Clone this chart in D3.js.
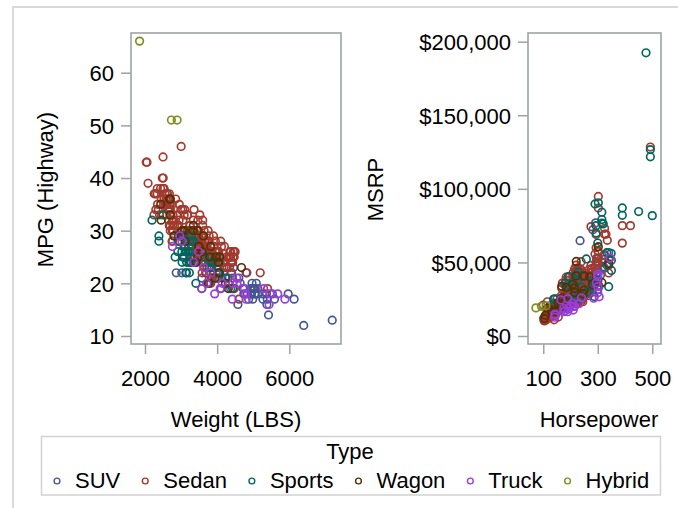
<!DOCTYPE html>
<html><head><meta charset="utf-8">
<script src="https://cdn.jsdelivr.net/npm/d3@7"></script>
<style>
html,body{margin:0;padding:0;background:#fff;overflow:hidden}
svg{display:block;font-family:"Liberation Sans",Arial,sans-serif}
</style></head><body><svg id="c" width="678" height="508"></svg>
<script>
// ---- data: each row = [Weight (LBS), MPG Highway, Horsepower, MSRP] ----
const types = ["SUV", "Sedan", "Sports", "Wagon", "Truck", "Hybrid"];
const typeColors = ["#445694", "#A23A2E", "#01665E", "#543005", "#9D3CDB", "#7F8E1F"];

const suvRows = [
[4451,23,265,36945],[4023,23,225,37000],[4824,22,325,52195],[4600,21,275,37895],[4024,26,185,26545],
[5367,18,295,52795],[4302,21,320,46995],[4947,18,295,42735],[5050,18,295,41465],[4425,21,275,30295],
[2866,22,165,20255],[4987,17,230,32235],[7190,13,310,41475],[5000,19,232,34560],[4463,19,210,29670],
[3346,25,201,22515],[4945,19,275,31890],[5042,18,285,35725],[6133,17,325,46265],[3258,26,160,19860],
[3468,25,160,18690],[4387,22,240,27560],[6400,12,316,49995],[3549,26,173,21589],[4967,20,275,31849],
[3836,21,193,20449],[3790,20,195,27905],[3826,24,210,20130],[3575,19,190,25520],[4112,19,192,19635],
[5379,16,282,72250],[4576,16,217,39250],[3577,21,174,25995],[4740,18,235,45700],[5590,17,235,64800],
[4065,24,230,39195],[5969,18,300,52775],[4834,18,302,42915],[3091,25,130,21087],[5423,14,292,76870],
[4874,17,288,46470],[4374,19,210,29995],[4134,21,215,30492],[4718,19,215,33112],[3240,26,160,18892],
[5013,19,305,33840],[3760,20,180,20939],[3871,21,240,27339],[3779,26,185,21595],[4950,18,340,56665],
[3381,28,143,20585],[3682,22,185,23699],[3020,22,130,17163],[5390,17,325,54765],[5270,17,240,35695],
[4035,21,245,27710],[3935,24,230,27930],[3119,27,161,20290],[5086,20,220,35515],[4638,20,268,41250],
[3150,22,150,19000],[5120,18,240,33500],[5260,18,300,45000],[5530,18,285,39000],[4920,19,240,30500],
[5040,19,275,33000],[5130,19,290,35500],[4250,21,250,33000],[4180,22,230,29500],[3980,21,210,28500]
];
const sedanRows = [
[2778,31,200,23820],[3230,29,200,26990],[3575,28,270,33195],[3880,24,225,43755],[3893,24,225,46100],
[3252,31,170,25940],[3638,30,170,35940],[3462,28,220,31840],[3583,24,220,33430],[3627,25,220,34480],
[3561,27,220,36640],[3880,24,220,39640],[3814,27,220,42490],[4013,24,220,44240],[3836,24,250,42840],
[4024,24,300,49690],[4399,24,330,69190],[3825,20,340,48040],
[3219,29,184,28495],[3197,29,184,30795],[3560,28,184,37995],[3461,27,184,30245],[3285,30,225,35495],
[3285,28,225,36995],[3483,27,225,37245],[3428,28,184,39995],[3616,27,225,44295],[3472,30,225,44995],
[3814,26,325,54995],[4376,26,325,69195],[4464,26,325,73195],
[3353,30,175,22180],[3567,29,205,26470],[3461,29,200,24895],[3536,28,240,28345],[3591,29,205,32245],
[3778,29,205,35545],[3909,27,240,40720],
[3694,26,255,30835],[3984,26,275,45445],[4044,26,300,50595],[3992,26,275,47955],
[2370,34,103,11690],[2348,35,103,12585],[2617,37,140,14610],[2676,37,140,14810],[2617,37,140,16385],
[3465,32,180,21900],[3174,33,145,18995],[3297,30,200,20370],[3340,32,180,21825],[3476,30,200,25000],
[3315,30,200,23495],[3434,30,200,24225],[3606,27,240,27995],[4605,17,190,26395],[3699,26,185,27020],
[3101,29,150,17985],[3105,29,150,22000],[3217,27,220,25955],[3173,30,150,19090],[3448,28,200,30950],
[3479,29,200,24130],[3548,27,232,26860],[3581,28,250,29865],[3650,28,255,33295],[3357,30,150,25215],
[4068,25,215,27490],[4331,25,215,38380],
[2581,36,132,13670],[2626,36,132,15040],[3469,28,200,22035],[3182,28,150,18820],[3175,30,150,20220],
[3862,26,150,21795],[4440,25,215,32660],[3487,27,232,24885],
[2612,35,110,13270],[2606,35,110,13730],[2606,33,130,15460],[2691,33,130,15580],[2750,28,170,19135],
[3306,28,155,20320],[3313,26,201,22735],[4057,25,224,24345],[4057,25,224,27370],[4057,25,239,30315],
[4275,23,193,26930],[4309,20,190,25640],
[2432,38,115,13270],[2500,44,117,14170],[2513,38,115,15850],[2601,37,127,17750],[2782,30,160,19490],
[2994,34,160,19860],[3047,34,160,22260],[3349,30,240,23760],[3294,29,240,26960],[4310,25,240,24950],
[4365,25,240,27450],
[2255,37,103,10539],[2290,37,103,11839],[2339,37,103,11939],[2635,34,138,13839],[2635,34,138,15389],
[2698,34,138,15389],[3217,27,170,19339],[3217,27,170,20339],[3651,26,194,24589],[3651,26,194,26189],
[3336,26,260,28495],[3416,26,280,29795],[3677,24,260,32445],[3306,26,255,31145],[3851,23,340,42845],
[3977,23,340,52545],
[3428,28,192,29995],[3516,25,227,33995],[3777,26,235,43895],[3874,24,294,49995],[4046,24,390,63120],
[3803,24,294,68995],[3803,24,294,59995],[3948,24,390,74995],
[3281,30,138,16040],[2403,33,104,10280],[2661,34,124,12360],[2686,34,124,13580],[2697,34,124,14630],
[3279,27,170,18435],[3911,25,195,26000],[4802,22,195,20615],
[3460,29,225,32350],[3255,25,215,31045],[3285,24,215,32415],[3649,25,220,41010],[3715,23,300,48450],
[3990,25,290,55750],
[3681,26,232,32495],[3681,26,232,36895],[3768,24,280,40095],[3768,24,280,43495],[4369,25,239,41815],
[4369,25,239,44925],[4474,25,239,50470],
[2696,31,148,15500],[2762,32,160,17200],[3042,29,160,19270],[3812,25,200,28750],
[3250,30,189,26060],[3430,26,215,28370],[3360,25,168,32280],[3360,24,168,33480],[3430,26,215,35920],
[3450,26,215,37630],[3450,25,215,38830],[4085,24,302,94820],[4473,19,493,128420],[3770,28,215,45707],
[3585,22,302,52800],[3635,27,221,48170],[3815,22,302,57270],[4160,24,275,74320],[4390,24,302,86970],
[3308,28,155,21595],[4052,25,224,24695],[4052,25,224,29595],[4052,25,224,30895],[3315,26,201,23895],
[4195,23,302,34495],[4340,23,201,33995],
[2524,36,115,16999],[2678,35,163,19999],
[2656,32,120,14622],[2795,32,120,16722],[3351,29,160,19312],[3649,27,230,25700],[3549,25,205,29282],
[2513,35,126,12740],[2581,35,126,14740],[3039,29,175,19240],[3197,29,245,23290],[3473,28,265,27490],
[3476,28,265,29440],[4012,26,240,24780],[4175,24,240,32780],
[2946,32,140,18825],[3085,29,170,23675],[3948,26,185,28790],
[2771,33,140,15495],[3118,30,175,22450],[3477,30,200,22395],[3484,30,200,24295],[2771,33,140,17735],
[3803,26,185,23845],[4431,24,185,31370],
[3175,29,210,33360],[3175,29,210,30860],[3480,28,210,40670],[3700,28,210,43175],[3470,29,220,35105],
[3620,29,250,39465],
[2692,35,140,10995],[2751,35,140,14300],[2692,35,140,15825],[2751,35,140,17475],[3197,28,182,21410],
[2340,38,108,12965],
[2965,28,165,19945],[3285,28,165,20445],[3395,28,165,25645],[3495,27,165,27145],[3610,26,212,29345],
[3630,26,212,31545],
[2676,31,155,12884],[2676,31,145,14500],[2701,30,119,12269],[2756,30,119,15568],[3380,25,155,17262],
[2502,38,130,14085],[2524,38,130,15030],[2524,38,130,15295],[2035,43,108,10760],[2085,39,108,11560],
[2055,43,108,11290],[3086,33,157,19560],[3285,28,225,22775],[3175,33,157,19635],[3417,29,225,21965],
[3417,29,210,26560],[3362,28,225,25920],[3439,27,225,26510],[3439,28,210,30920],[4120,27,230,23495],
[4165,24,230,28800],
[2897,31,115,18715],[2934,31,180,19825],[3003,46,100,21055],[2820,31,150,21055],[3179,29,200,23785],
[3082,29,115,23215],[3241,31,170,23955],[3721,27,190,33180],[3953,25,270,39235],[5194,22,335,65000],
[5399,19,420,75000],
[2767,28,170,25135],[3903,27,197,31745],[3766,28,247,34845],[3571,25,300,37560],[3576,26,208,37730],
[3691,26,194,37885],[3450,28,197,40565],[3450,26,242,42565],[3653,26,268,45210],
[2505,40,130,16500],[2480,40,127,16900],[3360,34,170,24500],[3100,34,157,21500],[3520,33,175,23000],
[3600,31,180,24000],[3900,29,200,27500],[4100,28,205,30000],[4200,27,220,33000],[4350,26,240,36000],
[4450,26,255,38000],[4500,26,225,34000],[3750,30,200,26000],[3950,28,225,31000],[4250,25,240,35500],
[4400,22,300,58000],[3850,21,260,41000],[3700,22,240,36500],[4000,21,280,46000],[3650,23,225,30500],
[2900,33,150,17500],[2950,35,140,16800],[2850,36,130,15000],[3050,32,160,18900],[2250,33,110,11000],
[2300,34,108,12200],[2450,36,115,13500],[2550,37,120,14300],[2700,36,126,15700],[3600,32,190,26500]
];
const sportsRows = [
[3153,24,290,89765],[4024,22,450,84600],[3131,28,180,35940],[2921,28,225,37390],[3351,28,250,40590],
[3415,24,333,48195],[3781,23,333,56595],[2932,28,184,33895],[2998,29,225,41045],[3647,25,320,76200],
[3246,25,350,44535],[3248,24,350,51535],[3060,25,215,34495],[3410,20,500,81795],[3290,29,193,18345],
[3347,24,260,29380],[3780,24,280,37530],[2835,25,240,33260],[3023,26,172,18739],[3779,25,294,69995],
[3980,25,294,74995],[3865,24,390,81995],[4042,24,390,86995],[3840,23,300,63200],[2387,28,142,22388],
[2387,29,142,25193],[3053,25,197,25700],[3029,24,238,27200],[4065,22,302,90520],[4235,21,493,121770],
[4429,19,493,126670],[3055,29,192,40320],[3220,24,349,56170],[3241,28,210,25092],[3296,28,210,26992],
[3263,26,271,29562],[3188,26,287,26910],[3428,24,287,34390],[3725,20,340,33500],[3135,26,315,79165],
[3240,24,315,84165],[3119,26,315,76765],[3131,22,477,192465],[2811,29,228,43365],[2911,26,258,52365],
[2500,33,180,22570],[2195,32,138,25130],[3085,27,227,25045],[3263,24,300,31545],[3230,22,300,38000]
];
const wagonRows = [
[4035,24,220,40840],[3936,21,340,49090],[3594,26,184,32845],[3458,30,200,22225],[4675,23,250,31230],
[2702,33,130,17475],[3497,27,155,22290],[4056,22,280,34895],[4309,19,315,36395],[2447,32,104,11905],
[3410,24,215,32455],[3470,25,168,33780],[3966,25,221,50670],[4230,20,302,60670],[3488,27,155,22595],
[3020,30,160,17495],[3801,25,245,28739],[2701,36,130,17045],[3620,29,250,40845],[3109,28,182,23560],
[2435,35,108,14165],[3090,30,165,21445],[3340,31,165,24295],[2932,29,145,16497],[2679,36,130,16695],
[3034,30,115,19005],[3338,30,170,24955],[4067,25,270,40235],[2805,29,170,26135],[3823,27,208,35145],
[3755,20,215,29500]
];
const truckRows = [
[5879,17,345,52975],[5678,18,295,36100],[3623,23,175,18760],[4142,20,200,20310],[4804,17,300,40340],
[4760,19,300,41995],[3714,20,210,17630],[3829,22,210,20300],[4542,21,215,20215],[4788,18,231,22010],
[5464,18,300,33540],[3028,28,143,14385],[3351,24,175,16530],[4548,20,285,25717],[5440,16,300,29322],
[4083,19,190,25395],[2960,29,143,14840],[3571,19,207,22350],[3932,18,180,17184],[5287,19,305,26650],
[3485,26,165,24520],[2760,27,142,12800],[4435,20,190,16495],[4420,17,240,25935]
];
const hybridRows = [
[1850,66,73,19110],[2732,51,93,20140],[2890,51,110,20510]
];
const seriesRows = [suvRows, sedanRows, sportsRows, wagonRows, truckRows, hybridRows];

const weightTicks = [2000, 4000, 6000];
const mpgTicks = [10, 20, 30, 40, 50, 60];
const hpTicks = [100, 300, 500];
const msrpTicks = [0, 50000, 100000, 150000, 200000];

// ---- layout ----
const svg = d3.select("#c");
const FONT = 22, AXIS = "#9fa3a7";

svg.append("rect").attr("x", 13).attr("y", 7).attr("width", 720).attr("height", 540)
  .attr("fill", "none").attr("stroke", "#d9d9d9").attr("stroke-width", 2);

const L = {x0: 131, x1: 341, y0: 33, y1: 344};
const R = {x0: 528, x1: 661, y0: 33, y1: 344};

const xW = d3.scaleLinear().domain([1612, 7433]).range([L.x0, L.x1]);
const yM = d3.scaleLinear().domain([8.48, 67.54]).range([L.y1, L.y0]);
const xH = d3.scaleLinear().domain([44, 532]).range([R.x0, R.x1]);
const yP = d3.scaleLinear().domain([-5437, 205912]).range([R.y1, R.y0]);

function styleAxis(g) {
  g.select(".domain").remove();
  g.selectAll("line").attr("stroke", AXIS).attr("stroke-width", 1.5);
  g.selectAll("text").attr("font-size", FONT).attr("fill", "#000")
    .attr("font-family", "Liberation Sans, Arial, sans-serif");
}

function panel(P, xs, ys, xt, yt, yfmt, xi, yi, xTitle, yTitle, xTitleX, yTitleX) {
  const gx = svg.append("g").attr("transform", `translate(0,${P.y1})`)
    .call(d3.axisBottom(xs).tickValues(xt).tickSize(10).tickFormat(d3.format("d")));
  styleAxis(gx);
  gx.selectAll("text").attr("y", 42).attr("dy", 0);
  const gy = svg.append("g").attr("transform", `translate(${P.x0},0)`)
    .call(d3.axisLeft(ys).tickValues(yt).tickSize(10).tickPadding(7).tickFormat(yfmt));
  styleAxis(gy);
  gy.selectAll("text").attr("dy", "0.36em");

  const gp = svg.append("g");
  seriesRows.forEach((rows, k) => {
    gp.append("g").selectAll("circle").data(rows).join("circle")
      .attr("cx", d => xs(d[xi])).attr("cy", d => ys(d[yi])).attr("r", 3.8)
      .attr("fill", "none").attr("stroke", typeColors[k]).attr("stroke-width", 1.65);
  });

  svg.append("rect").attr("x", P.x0).attr("y", P.y0)
    .attr("width", P.x1 - P.x0).attr("height", P.y1 - P.y0)
    .attr("fill", "none").attr("stroke", AXIS).attr("stroke-width", 1.6);

  svg.append("text").attr("x", xTitleX).attr("y", 427).attr("text-anchor", "middle")
    .attr("font-size", FONT).text(xTitle);
  svg.append("text").attr("transform", `translate(${yTitleX},${(P.y0 + P.y1) / 2 + 1}) rotate(-90)`)
    .attr("text-anchor", "middle").attr("font-size", FONT).text(yTitle);
}

panel(L, xW, yM, weightTicks, mpgTicks, d3.format("d"), 0, 1, "Weight (LBS)", "MPG (Highway)", 236, 53);
panel(R, xH, yP, hpTicks, msrpTicks, v => "$" + d3.format(",")(v), 2, 3, "Horsepower", "MSRP", 599, 383);

// ---- legend ----
svg.append("rect").attr("x", 41.5).attr("y", 436.5).attr("width", 619).attr("height", 58.5)
  .attr("fill", "none").attr("stroke", "#d2d2d2").attr("stroke-width", 1.5);
svg.append("text").attr("x", 350).attr("y", 459).attr("text-anchor", "middle")
  .attr("font-size", FONT).text("Type");
let lx = 57;
types.forEach((t, k) => {
  svg.append("circle").attr("cx", lx).attr("cy", 481).attr("r", 2.9)
    .attr("fill", "none").attr("stroke", typeColors[k]).attr("stroke-width", 1.4);
  const tx = svg.append("text").attr("x", lx + 18).attr("y", 488).attr("font-size", FONT).text(t);
  lx = lx + 18 + tx.node().getComputedTextLength() + 25;
});
</script></body></html>
